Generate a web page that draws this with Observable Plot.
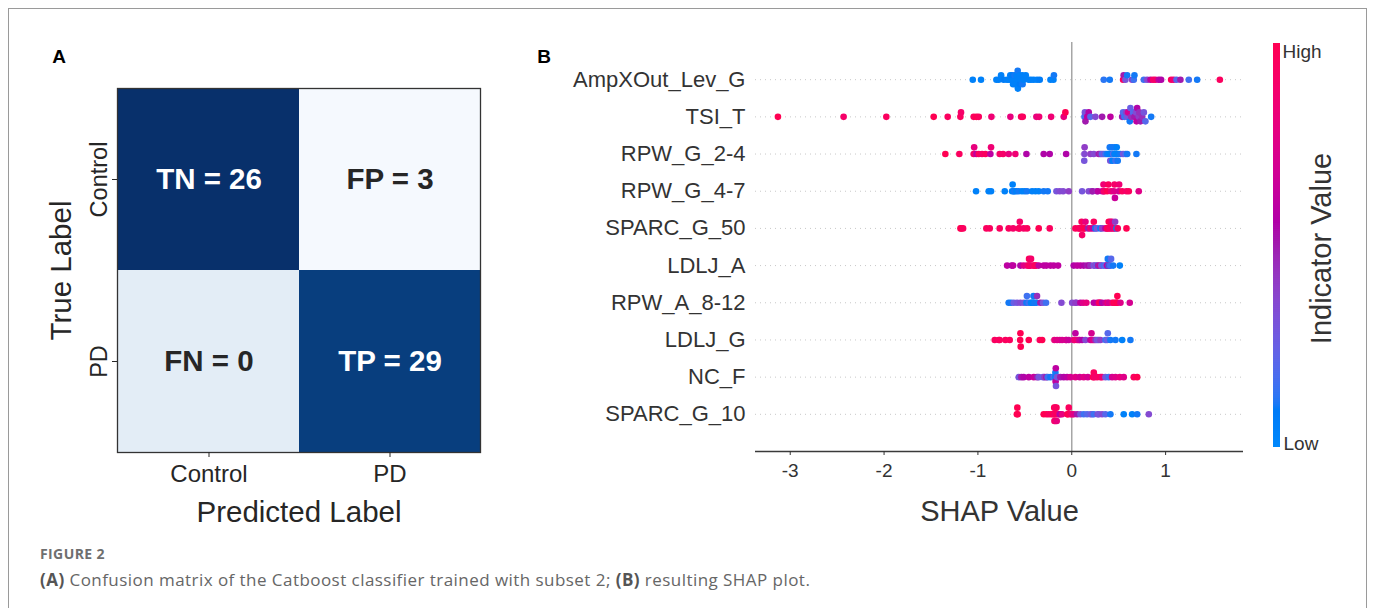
<!DOCTYPE html>
<html>
<head>
<meta charset="utf-8">
<script src="https://cdn.jsdelivr.net/npm/d3@7"></script>
<script src="https://cdn.jsdelivr.net/npm/@observablehq/plot@0.6"></script>
<style>
  html, body { margin: 0; padding: 0; background: #fff; overflow: hidden; }
  #page { position: relative; width: 1375px; height: 608px; }
  #border { position: absolute; left: 8px; top: 8px; width: 1359px; height: 640px; border: 1px solid #9a9a9a; box-sizing: border-box; }
  .panel { position: absolute; top: 0; }
  #figlabel { position: absolute; left: 40px; top: 547px; font: bold 14px/14px "Open Sans", sans-serif; letter-spacing: 0.4px; color: #6f6f6f; }
  #caption { position: absolute; left: 40px; top: 571px; font: 17px/17px "Open Sans", sans-serif; letter-spacing: 0.45px; color: #666; white-space: nowrap; }
  #caption b { color: #555; }
</style>
</head>
<body>
<div id="page">
  <div id="border"></div>
  <div id="panelA" class="panel" style="left:0px"></div>
  <div id="panelB" class="panel" style="left:530px"></div>
  <div id="panelC" class="panel" style="left:1260px"></div>
  <div id="figlabel">FIGURE 2</div>
  <div id="caption"><b>(A)</b> Confusion matrix of the Catboost classifier trained with subset 2; <b>(B)</b> resulting SHAP plot.</div>
</div>
<script>
// ---------------- Data: confusion matrix ----------------
const predLabels = ["Control", "PD"];
const trueLabels = ["Control", "PD"];
const cmNames = ["TN", "FP", "FN", "TP"];
const cmCounts = [26, 3, 0, 29];
const cmCellColors = ["#08306b", "#f5f9fe", "#e3edf6", "#083e7e"];
const cmDarkCells = ["TN", "TP"];

// ---------------- Data: SHAP values (feature order top to bottom) ----------------
const features = ["AmpXOut_Lev_G", "TSI_T", "RPW_G_2-4", "RPW_G_4-7", "SPARC_G_50", "LDLJ_A", "RPW_A_8-12", "LDLJ_G", "NC_F", "SPARC_G_10"];
const shapTicks = [-3, -2, -1, 0, 1];

const shap_AmpXOut_Lev_G = [-1.055,-0.967,-0.803,-0.778,-0.753,-0.725,-0.690,-0.668,-0.655,-0.640,-0.637,-0.625,-0.612,-0.610,-0.600,-0.590,-0.588,-0.578,-0.576,-0.574,-0.565,-0.555,-0.553,-0.540,-0.526,-0.524,-0.512,-0.490,-0.458,-0.434,-0.405,-0.370,-0.341,-0.227,-0.195,-0.190,
  0.341,0.405,0.547,0.553,0.572,0.590,0.643,0.661,0.668,0.768,0.803,0.839,0.867,0.892,0.927,0.952,1.059,1.087,1.116,1.158,1.247,1.336,1.578];
const val_AmpXOut_Lev_G = [.05,.05,.05,.05,.05,.08,.05,.05,.05,.05,.08,.05,.05,.1,.05,.05,.05,.05,.1,.05,.05,.05,.08,.05,.05,.1,.05,.05,.05,.05,.05,.05,.08,.05,.05,.1,
  .12,.1,.95,.5,.3,.1,.4,.15,.1,.15,.35,.6,.9,.9,.6,.55,.95,.85,.2,.5,.15,.1,.95];

const shap_TSI_T = [-3.131,-2.431,-1.976,-1.471,-1.322,-1.187,-1.180,-1.045,-1.016,-0.991,-0.856,-0.654,-0.540,-0.522,-0.377,-0.348,-0.220,-0.085,-0.068,
  0.135,0.140,0.146,0.165,0.181,0.199,0.252,0.323,0.412,0.537,0.547,0.561,0.583,0.590,0.601,0.618,0.625,0.633,0.654,0.668,0.686,0.690,0.697,0.714,0.720,0.732,0.750,0.768,0.785,0.846];
const val_TSI_T = [1,.9,.95,1,.95,.95,.9,.95,1,.95,.85,.8,.95,.95,.8,.85,.85,.8,1,
  .15,.3,.5,.6,.55,.2,.35,.5,.6,.5,.2,.15,.4,.3,.7,.1,.25,.45,.2,.5,.35,.6,.55,.4,.45,.5,.45,.3,.2,.1];

const shap_RPW_G_2_4 = [-1.347,-1.198,-1.045,-1.040,-1.016,-0.991,-0.956,-0.920,-0.867,-0.860,-0.768,-0.732,-0.672,-0.601,-0.483,-0.299,-0.235,-0.060,
  0.135,0.137,0.133,0.199,0.235,0.288,0.306,0.323,0.341,0.359,0.377,0.394,0.405,0.410,0.419,0.430,0.433,0.441,0.455,0.458,0.466,0.476,0.479,0.490,0.501,0.519,0.547,0.572,0.590,0.689];
const val_RPW_G_2_4 = [1,.95,.9,.8,.6,.95,.9,.95,.6,.85,.9,.9,.8,.85,.55,.55,.55,.55,
  .35,.4,.3,.4,.35,.5,.45,.2,.3,.15,.1,.05,.1,.3,.05,.1,.05,.2,.05,.1,.15,.05,.05,.1,.05,.1,.3,.2,.1,.1];

const shap_RPW_G_4_7 = [-1.020,-0.885,-0.860,-0.714,-0.636,-0.630,-0.618,-0.612,-0.590,-0.565,-0.530,-0.501,-0.476,-0.423,-0.387,-0.352,-0.299,-0.256,-0.163,-0.128,-0.092,-0.032,
  0.110,0.181,0.217,0.222,0.270,0.277,0.323,0.341,0.345,0.338,0.377,0.390,0.419,0.448,0.455,0.460,0.501,0.505,0.537,0.583,0.608,0.714];
const val_RPW_G_4_7 = [.05,.05,.05,.05,.05,.05,.05,.1,.05,.1,.05,.05,.1,.05,.05,.05,.1,.1,.3,.35,.35,.4,
  .3,.35,.3,.5,.4,.6,.6,.8,.9,.85,1,.95,.85,.75,.9,.65,.7,.85,.95,.9,.95,.75];

const shap_SPARC_G_50 = [-1.186,-1.176,-1.158,-0.910,-0.874,-0.768,-0.672,-0.625,-0.565,-0.558,-0.554,-0.512,-0.476,-0.352,-0.235,
  0.039,0.075,0.085,0.100,0.105,0.110,0.128,0.132,0.146,0.174,0.199,0.227,0.235,0.252,0.270,0.306,0.323,0.359,0.377,0.384,0.394,0.405,0.412,0.419,0.430,0.441,0.455,0.462,0.476,0.490,0.583];
const val_SPARC_G_50 = [1,1,.95,.95,.95,.95,.95,.9,.95,.95,.9,.9,.95,1,.95,
  .95,1,.9,.95,.95,.9,.95,1,.8,.5,.85,.6,.95,.1,.3,.05,.4,.6,.95,1,1,.9,.95,.95,.8,.7,.9,.4,.05,.95,1];

const shap_LDLJ_A = [-0.689,-0.640,-0.625,-0.547,-0.512,-0.476,-0.460,-0.455,-0.448,-0.440,-0.434,-0.412,-0.398,-0.390,-0.377,-0.352,-0.299,-0.270,-0.227,-0.192,-0.146,
  0.021,0.057,0.092,0.128,0.163,0.185,0.199,0.235,0.245,0.270,0.280,0.306,0.315,0.341,0.359,0.370,0.377,0.384,0.394,0.405,0.410,0.419,0.441,0.512];
const val_LDLJ_A = [.6,.55,.6,.55,.75,.8,.9,.95,.95,.9,.9,.85,.9,.95,.95,.6,.6,.6,.6,.6,.6,
  .55,.6,.6,.55,.5,.55,.45,.25,.35,.2,.5,.7,.3,.15,.25,.3,.6,.1,.1,.5,.15,.2,.1,.05];

const shap_RPW_A_8_12 = [-0.672,-0.647,-0.618,-0.583,-0.547,-0.512,-0.483,-0.478,-0.458,-0.434,-0.425,-0.412,-0.408,-0.398,-0.377,-0.370,-0.334,-0.306,-0.274,
  -0.110,0.004,0.039,0.050,0.092,0.121,0.156,0.235,0.270,0.288,0.295,0.306,0.323,0.359,0.384,0.394,0.430,0.448,0.466,0.480,0.483,0.486,0.519,0.618];
const val_RPW_A_8_12 = [.1,.1,.25,.3,.35,.3,.1,.15,.15,.05,.05,.05,.1,.1,.1,.45,.5,.3,.15,
  .35,.35,.4,.4,.6,.75,.8,.6,.6,.8,.95,.95,.55,.65,.9,.7,.8,1,.95,1,1,1,.75,.7];

const shap_LDLJ_G = [-0.821,-0.778,-0.768,-0.707,-0.661,-0.550,-0.547,-0.544,-0.458,-0.341,-0.316,-0.185,-0.156,-0.128,-0.103,-0.062,-0.057,-0.032,
  0.021,0.030,0.039,0.057,0.075,0.085,0.110,0.146,0.199,0.210,0.217,0.235,0.252,0.270,0.288,0.306,0.359,0.377,0.384,0.412,0.466,0.537,0.625];
const val_LDLJ_G = [.95,.9,.95,.95,.95,1,1,1,1,.95,1,.8,.75,.75,.7,.75,.7,.65,
  .7,.85,.6,.85,.75,.65,.55,.35,.6,.7,.7,.75,.45,.3,.3,.4,.15,.25,.2,.1,.1,.05,.1];

const shap_NC_F = [-0.565,-0.537,-0.512,-0.458,-0.405,-0.370,-0.352,-0.306,-0.291,-0.270,-0.256,-0.227,-0.192,-0.176,-0.174,-0.172,-0.170,-0.168,-0.156,-0.121,-0.085,-0.050,-0.014,
  0.039,0.085,0.128,0.171,0.227,0.235,0.240,0.270,0.306,0.323,0.359,0.394,0.430,0.466,0.512,0.554,0.661,0.697];
const val_NC_F = [.3,.5,.55,.6,.65,.5,.3,.25,.4,.5,.15,.1,.2,.1,.1,.6,.6,.3,.3,.5,.55,.6,.7,
  .75,.7,.75,.7,1,.95,.9,.9,.95,.85,.3,.15,.7,.75,.8,.75,.95,1];

const shap_SPARC_G_10 = [-0.585,-0.580,-0.576,-0.299,-0.270,-0.245,-0.220,-0.199,-0.190,-0.187,-0.185,-0.180,-0.176,-0.174,-0.165,-0.163,-0.160,-0.146,-0.131,-0.121,-0.103,-0.045,-0.043,-0.032,-0.014,
  0.004,0.021,0.057,0.092,0.128,0.163,0.199,0.217,0.235,0.277,0.288,0.323,0.359,0.412,0.554,0.643,0.697,0.821];
const val_SPARC_G_10 = [1,1,1,1,1,.95,.95,1,.95,1,.85,.9,.9,.9,.95,.95,.8,.95,.7,.55,.8,1,1,.95,.95,
  .85,.75,.5,.3,.15,.2,.25,.3,.15,.35,.3,.35,.2,.1,.05,.05,.1,.35];

const shapByFeature = [shap_AmpXOut_Lev_G, shap_TSI_T, shap_RPW_G_2_4, shap_RPW_G_4_7, shap_SPARC_G_50, shap_LDLJ_A, shap_RPW_A_8_12, shap_LDLJ_G, shap_NC_F, shap_SPARC_G_10];
const valByFeature = [val_AmpXOut_Lev_G, val_TSI_T, val_RPW_G_2_4, val_RPW_G_4_7, val_SPARC_G_50, val_LDLJ_A, val_RPW_A_8_12, val_LDLJ_G, val_NC_F, val_SPARC_G_10];

// ---------------- Shared styles ----------------
const FONT = "'Liberation Sans', Arial, Helvetica, sans-serif";
const TXT = "#262626";

// SHAP red-blue colormap (LCh interpolation as in the shap package)
function shapRedBlue(t) {
  const L = t < 0.5 ? 54 + (40 - 54) * (t / 0.5) : 40 + (54 - 40) * ((t - 0.5) / 0.5);
  const C = 70 + 20 * t;
  const H = 266.9 + (380.3 - 266.9) * t;
  return d3.hcl(H % 360, C, L).formatHex();
}
const colorScale = {type: "linear", domain: [0, 1], interpolate: shapRedBlue};

// ---------------- Panel A: confusion matrix ----------------
const cmCells = cmNames.map((name, i) => ({
  name, count: cmCounts[i],
  pred: predLabels[i % 2], truth: trueLabels[Math.floor(i / 2)],
  dark: cmDarkCells.includes(name)
}));

const plotA = Plot.plot({
  width: 530, height: 540,
  marginLeft: 117, marginRight: 50, marginTop: 88, marginBottom: 88,
  style: {fontFamily: FONT, background: "transparent", overflow: "visible"},
  x: {domain: predLabels, padding: 0},
  y: {domain: trueLabels, padding: 0},
  color: {type: "ordinal", domain: cmNames, range: cmCellColors},
  marks: [
    Plot.cell(cmCells, {x: "pred", y: "truth", fill: "name", inset: 0}),
    Plot.text(cmCells, {filter: d => d.dark, x: "pred", y: "truth", text: d => `${d.name} = ${d.count}`, fill: "white", fontSize: 29.5, fontWeight: "bold"}),
    Plot.text(cmCells, {filter: d => !d.dark, x: "pred", y: "truth", text: d => `${d.name} = ${d.count}`, fill: TXT, fontSize: 29.5, fontWeight: "bold"}),
    Plot.frame({stroke: "#333", strokeWidth: 1.3}),
    Plot.axisX({tickSize: 5, tickPadding: 7, fontSize: 24, color: TXT, label: null}),
    Plot.axisY({tickSize: 5, fill: "none", stroke: TXT, label: null}),
    Plot.text(trueLabels, {y: d => d, text: d => d, frameAnchor: "left", dx: -10.5, rotate: -90, textAnchor: "middle", lineAnchor: "bottom", fontSize: 23.5, fill: TXT}),
    Plot.text(["Predicted Label"], {text: d => d, frameAnchor: "bottom", dy: 69.5, textAnchor: "middle", lineAnchor: "bottom", fontSize: 29.5, fill: TXT}),
    Plot.text(["True Label"], {text: d => d, frameAnchor: "left", dx: -46.4, rotate: -90, textAnchor: "middle", lineAnchor: "bottom", fontSize: 29.5, fill: TXT}),
    Plot.text(["A"], {text: d => d, frameAnchor: "top-left", dx: -58.5, dy: -26, textAnchor: "middle", lineAnchor: "bottom", fontSize: 19, fontWeight: "bold", fill: "#000"})
  ]
});
document.getElementById("panelA").appendChild(plotA);

// ---------------- Panel B: SHAP beeswarm ----------------
// beeswarm layout following shap's summary plot algorithm
function beeswarm(xs) {
  const N = xs.length, nbins = 100;
  const mn = d3.min(xs), mx = d3.max(xs);
  const quant = xs.map(x => Math.round(nbins * (x - mn) / (mx - mn + 1e-8)));
  const inds = d3.range(N).sort((a, b) => quant[a] - quant[b] || a - b);
  const ys = new Array(N).fill(0);
  let layer = 0, last = -1;
  for (const i of inds) {
    if (quant[i] !== last) layer = 0;
    ys[i] = Math.ceil(layer / 2) * ((layer % 2) * 2 - 1);
    layer++;
    last = quant[i];
  }
  const m = d3.max(ys, y => y + 1);
  return ys.map(y => y * 0.9 * (0.4 / m));
}

const nF = features.length;
const points = [];
features.forEach((f, i) => {
  const xs = shapByFeature[i], vs = valByFeature[i];
  const offs = beeswarm(xs);
  const row = nF - 1 - i;
  xs.forEach((x, j) => points.push({feature: f, shap: x, value: vs[j], y: row + offs[j]}));
});
const rowIdx = d3.range(nF);

const plotB = Plot.plot({
  width: 730, height: 540,
  marginLeft: 225, marginRight: 17, marginTop: 42, marginBottom: 89,
  style: {fontFamily: FONT, background: "transparent", overflow: "visible"},
  x: {domain: [-3.37, 1.83]},
  y: {domain: [-1, nF]},
  color: colorScale,
  marks: [
    Plot.ruleY(rowIdx, {y: d => d, stroke: "#c8c8c8", strokeWidth: 1, strokeDasharray: "1,4"}),
    Plot.ruleX([0], {x: d => d, stroke: "#a6a6a6", strokeWidth: 1.5}),
    Plot.dot(points, {x: "shap", y: "y", fill: "value", r: 3.3}),
    Plot.ruleY([-1], {y: d => d, stroke: "#3a3a3a", strokeWidth: 1.3}),
    Plot.axisX({ticks: shapTicks, tickFormat: d => String(d), tickSize: 4, tickPadding: 8, fontSize: 19, color: "#333", label: null}),
    Plot.axisY({ticks: rowIdx, tickFormat: i => features[nF - 1 - i], tickSize: 0, tickPadding: 10, fontSize: 22, fill: "#333", label: null}),
    Plot.text(["SHAP Value"], {text: d => d, frameAnchor: "bottom", dy: 69, textAnchor: "middle", lineAnchor: "bottom", fontSize: 29, fill: "#333"}),
    Plot.text(["B"], {text: d => d, frameAnchor: "top-left", dx: -211.5, dy: 20, textAnchor: "middle", lineAnchor: "bottom", fontSize: 19, fontWeight: "bold", fill: "#000"})
  ]
});
document.getElementById("panelB").appendChild(plotB);

// ---------------- Panel C: colour bar ----------------
const cbStep = 0.005;
const cbSteps = d3.range(0, 1, cbStep);
const cbLabels = ["Low", "High"];
const plotC = Plot.plot({
  width: 115, height: 540,
  marginLeft: 13, marginRight: 95, marginTop: 43, marginBottom: 93,
  style: {fontFamily: FONT, background: "transparent", overflow: "visible"},
  x: {domain: [0, 1], axis: null},
  y: {domain: [0, 1], axis: null},
  color: colorScale,
  marks: [
    Plot.rect(cbSteps, {x1: 0, x2: 1, y1: d => d, y2: d => Math.min(1, d + cbStep * 1.6), fill: d => d}),
    Plot.text([cbLabels[1]], {text: d => d, frameAnchor: "top-right", dx: 2, dy: 14, textAnchor: "start", lineAnchor: "bottom", fontSize: 19, fill: "#333"}),
    Plot.text([cbLabels[0]], {text: d => d, frameAnchor: "bottom-right", dx: 3, dy: 2, textAnchor: "start", lineAnchor: "bottom", fontSize: 19, fill: "#333"}),
    Plot.text(["Indicator Value"], {text: d => d, frameAnchor: "right", dx: 50, dy: 3, rotate: -90, textAnchor: "middle", lineAnchor: "bottom", fontSize: 29, fill: "#333"})
  ]
});
document.getElementById("panelC").appendChild(plotC);
</script>
</body>
</html>
